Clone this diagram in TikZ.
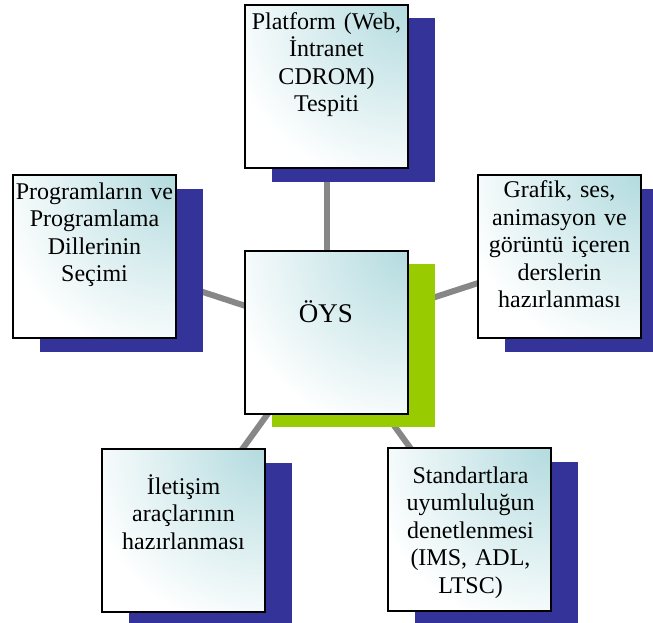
\documentclass[tikz,border=0pt]{standalone}
\usepackage{fontspec}
\setmainfont{Liberation Serif}
\usetikzlibrary{backgrounds}
\definecolor{navy}{HTML}{333399}
\definecolor{limec}{HTML}{99CC00}
\definecolor{linkgray}{HTML}{878787}
\definecolor{tealc}{HTML}{B3DBDF}
\tikzset{
  box/.style={draw=black, line width=1.8pt, fill=white, minimum width=163pt,
    minimum height=163pt, inner sep=0pt, outer sep=0pt, anchor=north west,
    path picture={\shade[inner color=tealc, outer color=white]
      (path picture bounding box.north east) circle (185pt);}},
  boxtext/.style={anchor=north, inner sep=0pt, text width=163pt, align=center,
    font=\fontsize{24}{27.5}\selectfont},
  link/.style={draw=linkgray, line width=6pt},
  navyshadow/.style={fill=navy},
  limeshadow/.style={fill=limec},
}
\begin{document}
\begin{tikzpicture}[x=1pt, y=-1pt]
\useasboundingbox (0,0) rectangle (653,623);
% front boxes
\node[box] (top) at (245,5) {};
\node[box] (left) at (13,175) {};
\node[box] (right) at (478,175) {};
\node[box] (oys) at (245,251) {};
\node[box] (bl) at (102,449) {};
\node[box] (br) at (388,448) {};
% texts
\node[boxtext] (tTop) at (326.5,8.3) {\rule{0pt}{21pt}Platform (Web,\\İntranet\\CDROM)\\Tespiti};
\node[boxtext] (tLeft) at (94.5,178) {\rule{0pt}{21pt}Programların ve\\Programlama\\Dillerinin\\Seçimi};
\node[boxtext] (tRight) at (559.5,176.5) {\rule{0pt}{21pt}Grafik, ses,\\animasyon ve\\görüntü içeren\\derslerin\\hazırlanması};
\node[boxtext] (tBl) at (183.5,473) {\rule{0pt}{21pt}İletişim\\araçlarının\\hazırlanması};
\node[boxtext] (tBr) at (470.5,462) {\rule{0pt}{21pt}Standartlara\\uyumluluğun\\denetlenmesi\\(IMS, ADL,\\LTSC)};
\node[anchor=base, inner sep=0pt, font=\fontsize{27}{30}\selectfont] (tOys) at (326,322) {ÖYS};
% connectors and shadows behind
\begin{scope}[on background layer]
  \draw[link] (oys.center) -- (top.center);
  \draw[link] (oys.center) -- (left.center);
  \draw[link] (oys.center) -- (right.center);
  \draw[link] (oys.center) -- (bl.center);
  \draw[link] (oys.center) -- (br.center);
  \foreach \n in {top,left,right,bl,br}
    \fill[navyshadow] ([shift={(27,13.5)}]\n.north west) rectangle ([shift={(27,13.5)}]\n.south east);
  \fill[limeshadow] ([shift={(27,13)}]oys.north west) rectangle ([shift={(27,13)}]oys.south east);
\end{scope}
\end{tikzpicture}
\end{document}
